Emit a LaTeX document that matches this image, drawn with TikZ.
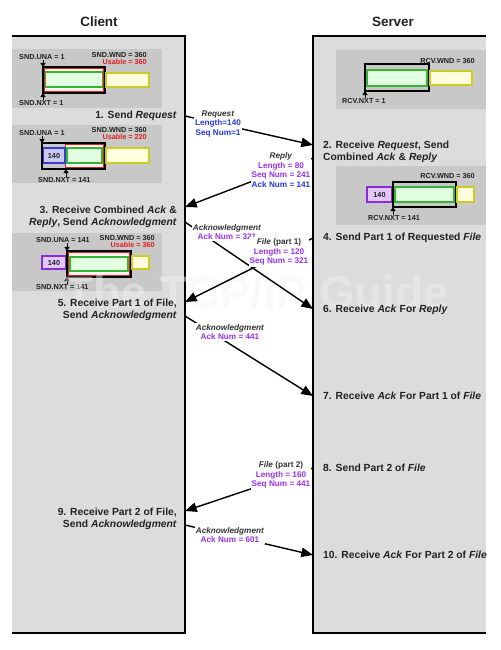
\documentclass[tikz,border=0pt]{standalone}
\usepackage{fontspec}
\setmainfont{Liberation Sans}
\usepackage{tikz}
\usetikzlibrary{arrows.meta}
\definecolor{panelgray}{HTML}{DCDCDC}
\definecolor{boxgray}{HTML}{C8C8C8}
\definecolor{txtdark}{HTML}{222222}
\definecolor{hdrgray}{HTML}{333333}
\definecolor{grnline}{HTML}{33B633}
\definecolor{grnfill}{HTML}{E2FFE2}
\definecolor{yelline}{HTML}{CCCC22}
\definecolor{yelfill}{HTML}{FFFFE0}
\definecolor{usered}{HTML}{E02020}
\definecolor{bluline}{HTML}{3A3ACC}
\definecolor{blufill}{HTML}{C8C8F2}
\definecolor{purline}{HTML}{8A2BD6}
\definecolor{purfill}{HTML}{E2C8F8}
\definecolor{msgblue}{HTML}{2838E0}
\definecolor{msgpurple}{HTML}{9A30F0}
\tikzstyle{edge} = [line width=1.4pt, draw=black]
\tikzstyle{msg} = [line width=1.2pt, -{Triangle[length=10pt,width=8pt]}]
\tikzstyle{msglbl} = [fill=white, inner sep=1pt, align=center, font=\fontsize{7}{8.3}\selectfont\bfseries]
\tikzstyle{steplbl} = [inner sep=0pt, text=txtdark, font=\fontsize{8.8}{10}\selectfont\bfseries]
\tikzstyle{winlbl} = [inner sep=0pt, text=txtdark, font=\fontsize{6.2}{7}\selectfont\bfseries]
\tikzstyle{ptr} = [line width=0.5pt, -{Triangle[length=3.5pt,width=4.5pt]}]
\tikzstyle{wnd} = [draw=black, line width=1.4pt]
\tikzstyle{usable} = [draw=usered, line width=1.1pt, fill=red!4]
\tikzstyle{fresh} = [draw=grnline, line width=0.9pt, fill=grnfill]
\tikzstyle{later} = [draw=yelline, line width=0.9pt, fill=yelfill]
\tikzstyle{sent} = [draw=bluline, line width=0.9pt, fill=blufill]
\tikzstyle{acked} = [draw=purline, line width=0.9pt, fill=purfill]
\tikzstyle{numlbl} = [inner sep=0pt, text=txtdark, font=\fontsize{6.2}{7}\selectfont\bfseries]
\begin{document}
\begin{tikzpicture}[x=0.03cm, y=-0.03cm]
    \useasboundingbox (0,0) rectangle (500,650);

    % panels
    \fill[panelgray] (12,36) rectangle (185,633);
    \fill[panelgray] (313,36) rectangle (486,633);
    \draw[edge] (12,36) -- (185,36) -- (185,633) -- (12,633);
    \draw[edge] (486,36) -- (313,36) -- (313,633) -- (486,633);
    \node (client) [font=\fontsize{11.5}{13}\selectfont\bfseries, text=txtdark] at (99,22) {Client};
    \node (server) [font=\fontsize{11.5}{13}\selectfont\bfseries, text=txtdark] at (393,22) {Server};

    % client window 1
    \fill[boxgray] (12,49) rectangle (162,108);
    \draw[usable] (44.5,68.5) rectangle (103.5,91.5);
    \draw[fresh] (45.5,72) rectangle (102.5,87);
    \draw[wnd] (43,67) rectangle (105,93);
    \draw[later] (106,73) rectangle (149,87);
    \coordinate (una1p) at (43,67);
    \coordinate (nxt1p) at (43,93);
    \node (una1) [winlbl, anchor=west] at (19,57) {SND.UNA = 1};
    \node (wnd1) [winlbl, anchor=east] at (147,55) {SND.WND = 360};
    \node (use1) [winlbl, anchor=east, text=usered] at (147,62) {Usable = 360};
    \node (nxt1) [winlbl, anchor=west] at (19,103) {SND.NXT = 1};
    \draw[ptr] (una1.south -| una1p) -- (una1p);
    \draw[ptr] (nxt1.north -| nxt1p) -- (nxt1p);

    % client window 2
    \fill[boxgray] (12,125) rectangle (162,183);
    \draw[usable] (65.5,144.5) rectangle (103.5,167.5);
    \draw[fresh] (67,148) rectangle (102,163);
    \draw[sent] (43,148) rectangle (65,163);
    \node (seg2) [numlbl] at (54,155.5) {140};
    \draw[wnd] (42,143) rectangle (105,169);
    \draw[later] (106,148) rectangle (149,163);
    \coordinate (una2p) at (42,143);
    \coordinate (nxt2p) at (66,169);
    \node (una2) [winlbl, anchor=west] at (19,133) {SND.UNA = 1};
    \node (wnd2) [winlbl, anchor=east] at (147,130) {SND.WND = 360};
    \node (use2) [winlbl, anchor=east, text=usered] at (147,137) {Usable = 220};
    \node (nxt2) [winlbl, anchor=west] at (38,180) {SND.NXT = 141};
    \draw[ptr] (una2.south -| una2p) -- (una2p);
    \draw[ptr] (nxt2.north -| nxt2p) -- (nxt2p);

    % client window 3
    \fill[boxgray] (12,233) rectangle (162,291);
    \draw[acked] (42,256) rectangle (66,269);
    \node (seg3) [numlbl] at (54,262.5) {140};
    \draw[usable] (68.5,252.5) rectangle (129.5,275.5);
    \draw[fresh] (70,257) rectangle (128,271);
    \draw[wnd] (67,251) rectangle (131,277);
    \draw[later] (132,256) rectangle (149,269);
    \coordinate (una3p) at (67,251);
    \coordinate (nxt3p) at (67,277);
    \node (una3) [winlbl, anchor=west] at (36,240) {SND.UNA = 141};
    \node (wnd3) [winlbl, anchor=east] at (155,238) {SND.WND = 360};
    \node (use3) [winlbl, anchor=east, text=usered] at (155,245) {Usable = 360};
    \node (nxt3) [winlbl, anchor=west] at (36,287) {SND.NXT = 141};
    \draw[ptr] (una3.south -| una3p) -- (una3p);
    \draw[ptr] (nxt3.north -| nxt3p) -- (nxt3p);

    % server window 1
    \fill[boxgray] (336,50) rectangle (486,109);
    \draw[fresh] (367,70) rectangle (427,86);
    \draw[wnd] (365,64) rectangle (429,91);
    \draw[later] (430,71) rectangle (472,85);
    \coordinate (rnxt1p) at (365,91);
    \node (rwnd1) [winlbl, anchor=east] at (475,61) {RCV.WND = 360};
    \node (rnxt1) [winlbl, anchor=west] at (342,101) {RCV.NXT = 1};
    \draw[ptr] (rnxt1.north -| rnxt1p) -- (rnxt1p);

    % server window 2
    \fill[boxgray] (336,166) rectangle (486,225);
    \draw[acked] (367,187) rectangle (392,202);
    \node (rseg2) [numlbl] at (379.5,194.5) {140};
    \draw[fresh] (395,187) rectangle (454,202);
    \draw[wnd] (393,182) rectangle (456,207);
    \draw[later] (457,187) rectangle (474,202);
    \coordinate (rnxt2p) at (393,207);
    \node (rwnd2) [winlbl, anchor=east] at (475,176) {RCV.WND = 360};
    \node (rnxt2) [winlbl, anchor=west] at (368,218) {RCV.NXT = 141};
    \draw[ptr] (rnxt2.north -| rnxt2p) -- (rnxt2p);

    % faint watermark
    \node (wm) [text=black!5, text opacity=0.45, font=\fontsize{39}{42}\selectfont\bfseries] at (257,292) {The TCP/IP Guide};

    % steps
    \node (c1) [steplbl, anchor=east, align=right] at (177,116) {1. Send \textit{Request}};
    \node (c3) [steplbl, anchor=east, align=right] at (177,216.5) {3. Receive Combined \textit{Ack} \&\\\textit{Reply}, Send \textit{Acknowledgment}};
    \node (c5) [steplbl, anchor=east, align=right] at (177,309.5) {5. Receive Part 1 of File,\\Send \textit{Acknowledgment}};
    \node (c9) [steplbl, anchor=east, align=right] at (177,518.5) {9. Receive Part 2 of File,\\Send \textit{Acknowledgment}};
    \node (s2) [steplbl, anchor=west, align=left] at (323,151.5) {2. Receive \textit{Request}, Send\\Combined \textit{Ack} \& \textit{Reply}};
    \node (s4) [steplbl, anchor=west] at (323,238) {4. Send Part 1 of Requested \textit{File}};
    \node (s6) [steplbl, anchor=west] at (323,310) {6. Receive \textit{Ack} For \textit{Reply}};
    \node (s7) [steplbl, anchor=west] at (323,396) {7. Receive \textit{Ack} For Part 1 of \textit{File}};
    \node (s8) [steplbl, anchor=west] at (323,468) {8. Send Part 2 of \textit{File}};
    \node (s10) [steplbl, anchor=west] at (323,555) {10. Receive \textit{Ack} For Part 2 of \textit{File}};

    % message ends on the panel edges
    \coordinate (c1o) at (185,116);
    \coordinate (s2i) at (313,145);
    \coordinate (s2o) at (313,158);
    \coordinate (c3i) at (185,207);
    \coordinate (c3o) at (185,222);
    \coordinate (s6i) at (313,309);
    \coordinate (s4o) at (313,238);
    \coordinate (c5i) at (185,302);
    \coordinate (c5o) at (185,316);
    \coordinate (s7i) at (313,396);
    \coordinate (s8o) at (313,468);
    \coordinate (c9i) at (185,511);
    \coordinate (c9o) at (185,525);
    \coordinate (s10i) at (313,555);

    \draw[msg] (c1o) -- (s2i);
    \draw[msg] (s2o) -- (c3i);
    \draw[msg] (c3o) -- (s6i);
    \draw[msg] (s4o) -- (c5i);
    \draw[msg] (c5o) -- (s7i);
    \draw[msg] (s8o) -- (c9i);
    \draw[msg] (c9o) -- (s10i);

    \node (req) [msglbl] at (218,124) {\textcolor{hdrgray}{\textit{Request}}\\\textcolor{msgblue}{Length=140}\\\textcolor{msgblue}{Seq Num=1}};
    \node (rep) [msglbl] at (281,170) {\textcolor{hdrgray}{\textit{Reply}}\\\textcolor{msgpurple}{Length = 80}\\\textcolor{msgpurple}{Seq Num = 241}\\\textcolor{msgblue}{Ack Num = 141}};
    \node (ack1) [msglbl] at (227,232) {\textcolor{hdrgray}{\textit{Acknowledgment}}\\\textcolor{msgpurple}{Ack Num = 321}};
    \node (file1) [msglbl] at (279,252) {\textcolor{hdrgray}{\textit{File} (part 1)}\\\textcolor{msgpurple}{Length = 120}\\\textcolor{msgpurple}{Seq Num = 321}};
    \node (ack2) [msglbl] at (230,332) {\textcolor{hdrgray}{\textit{Acknowledgment}}\\\textcolor{msgpurple}{Ack Num = 441}};
    \node (file2) [msglbl] at (281,475) {\textcolor{hdrgray}{\textit{File} (part 2)}\\\textcolor{msgpurple}{Length = 160}\\\textcolor{msgpurple}{Seq Num = 441}};
    \node (ack3) [msglbl] at (230,535) {\textcolor{hdrgray}{\textit{Acknowledgment}}\\\textcolor{msgpurple}{Ack Num = 601}};

\end{tikzpicture}
\end{document}
